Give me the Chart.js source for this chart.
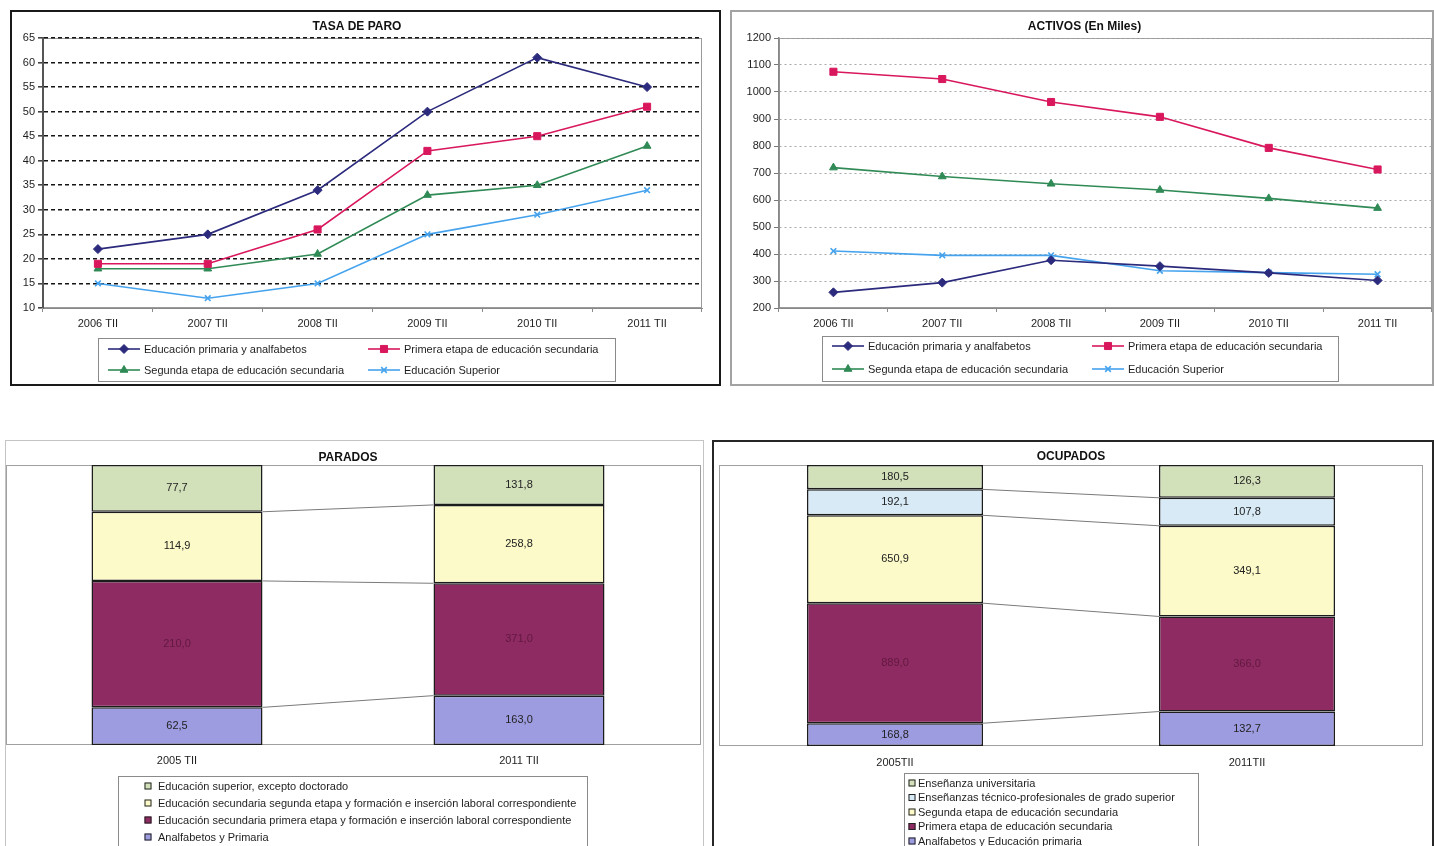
<!DOCTYPE html>
<html>
<head>
<meta charset="utf-8">
<script src="https://cdn.jsdelivr.net/npm/chart.js@4.4.1/dist/chart.umd.min.js"></script>
<style>
  html, body { margin: 0; padding: 0; background: #fff; width: 1434px; height: 846px; overflow: hidden; }
  .panel { position: absolute; box-sizing: border-box; background: #fff; overflow: hidden; }
  .panel canvas { display: block; }
</style>
</head>
<body>
<div class="panel" style="left:10px;top:10px;width:711px;height:376px;border:2px solid #1a1a1a"><canvas id="cTasa" width="707" height="372"></canvas></div>
<div class="panel" style="left:730px;top:10px;width:704px;height:376px;border:2px solid #a3a3a3"><canvas id="cActivos" width="706" height="372"></canvas></div>
<div class="panel" style="left:5px;top:440px;width:699px;height:422px;border:1px solid #c4c4c4"><canvas id="cParados" width="697" height="420"></canvas></div>
<div class="panel" style="left:712px;top:440px;width:722px;height:424px;border:2px solid #262626"><canvas id="cOcupados" width="718" height="420"></canvas></div>

<script>
// ---- Series: unemployment rate and active population by education level ----
const lineYears = ['2006 TII', '2007 TII', '2008 TII', '2009 TII', '2010 TII', '2011 TII'];
const lineSeriesNames = [
  'Educación primaria y analfabetos',
  'Primera etapa de educación secundaria',
  'Segunda etapa de educación secundaria',
  'Educación Superior'
];
const paroPrimaria = [22, 25, 34, 50, 61, 55];
const paroPrimera  = [19, 19, 26, 42, 45, 51];
const paroSegunda  = [18, 18, 21, 33, 35, 43];
const paroSuperior = [15, 12, 15, 25, 29, 34];

const activosPrimaria = [258, 294, 377, 355, 330, 302];
const activosPrimera  = [1075, 1048, 963, 908, 793, 713];
const activosSegunda  = [720, 687, 660, 637, 606, 570];
const activosSuperior = [411, 395, 395, 338, 331, 325];

// ---- Stacked composition (thousands) ----
const paradosYears = ['2005 TII', '2011 TII'];
const paradosNames = [
  'Analfabetos y Primaria',
  'Educación secundaria primera etapa y formación e inserción laboral correspondiente',
  'Educación secundaria segunda etapa y formación e inserción laboral correspondiente',
  'Educación superior, excepto doctorado'
];
const paradosAnalfabetos = [62.5, 163.0];
const paradosPrimera     = [210.0, 371.0];
const paradosSegunda     = [114.9, 258.8];
const paradosSuperior    = [77.7, 131.8];

const ocupadosYears = ['2005TII', '2011TII'];
const ocupadosNames = [
  'Analfabetos y Educación primaria',
  'Primera etapa de educación secundaria',
  'Segunda etapa de educación secundaria',
  'Enseñanzas técnico-profesionales de grado superior',
  'Enseñanza universitaria'
];
const ocupadosAnalfabetos = [168.8, 132.7];
const ocupadosPrimera     = [889.0, 366.0];
const ocupadosSegunda     = [650.9, 349.1];
const ocupadosTecnico     = [192.1, 107.8];
const ocupadosUniversidad = [180.5, 126.3];

// ---- Shared style ----
const FONT = '"Liberation Sans", Arial, Helvetica, sans-serif';
Chart.defaults.font.family = FONT;
Chart.defaults.font.size = 11;
Chart.defaults.color = '#1e1e1e';
Chart.defaults.animation = false;

const NAVY = '#2b2a7c', CRIMSON = '#d9175d', GREEN = '#2f8a55', SKY = '#45a3ee';
const C_ANALF = '#9e9ce0', C_PRIM = '#8e2b63', C_SEG = '#fbfac8', C_TEC = '#d7eaf5', C_SUP = '#d3e1bb';

const fmt = v => v.toFixed(1).replace('.', ',');

// Grey frame around the plotting area
const plotFrame = {
  id: 'plotFrame',
  beforeDraw(chart, args, o) {
    if (!o || !o.color) return;
    const a = chart.chartArea, ctx = chart.ctx;
    const right = o.right != null ? o.right : a.right;
    const left = o.left != null ? o.left : a.left;
    ctx.save();
    ctx.strokeStyle = o.color;
    ctx.lineWidth = o.width || 1;
    ctx.strokeRect(left + 0.5, a.top + 0.5, right - left - 1, a.bottom - a.top - 1);
    ctx.restore();
  }
};

// Boxed legend with fixed rows/columns
const boxLegend = {
  id: 'boxLegend',
  afterDraw(chart, args, o) {
    if (!o || !o.rows) return;
    const ctx = chart.ctx;
    const ds = chart.data.datasets;
    ctx.save();
    ctx.strokeStyle = o.borderColor || '#8a8a8a';
    ctx.lineWidth = 1;
    ctx.strokeRect(o.x + 0.5, o.y + 0.5, o.w, o.h);
    ctx.font = (o.fontSize || 11) + 'px ' + FONT;
    ctx.textBaseline = 'middle';
    const order = ds.map((d, i) => i);
    if (o.reverse) order.reverse();
    order.forEach((di, k) => {
      const d = ds[di];
      const nCols = o.cols ? o.cols.length : 1;
      const col = k % nCols;
      const row = Math.floor(k / nCols);
      const y = o.rows[row];
      if (o.kind === 'line') {
        const mx = o.cols[col];
        ctx.strokeStyle = d.borderColor;
        ctx.lineWidth = d.borderWidth;
        ctx.beginPath();
        ctx.moveTo(mx, y);
        ctx.lineTo(mx + 32, y);
        ctx.stroke();
        ctx.fillStyle = d.pointBackgroundColor;
        ctx.strokeStyle = d.pointBorderColor;
        ctx.lineWidth = d.pointBorderWidth;
        Chart.helpers.drawPoint(ctx, { pointStyle: d.pointStyle, radius: d.pointRadius, borderWidth: d.pointBorderWidth, rotation: 0 }, mx + 16, y);
        ctx.fillStyle = '#1e1e1e';
        ctx.fillText(d.label, o.textX[col], y + 0.5);
      } else {
        const s = 7;
        ctx.fillStyle = d.backgroundColor;
        ctx.fillRect(o.markX - s / 2, y - s / 2, s, s);
        ctx.strokeStyle = '#222';
        ctx.lineWidth = 1;
        ctx.strokeRect(o.markX - s / 2 + 0.5, y - s / 2 + 0.5, s - 1, s - 1);
        ctx.fillStyle = '#1e1e1e';
        ctx.fillText(d.label, o.textX, y + 0.5);
      }
    });
    ctx.restore();
  }
};

// Value labels and connector lines for the 100% stacked bars
const stackDecor = {
  id: 'stackDecor',
  afterDatasetsDraw(chart) {
    const ctx = chart.ctx;
    const ds = chart.data.datasets;
    ctx.save();
    // connectors between segment tops of the two columns
    ctx.strokeStyle = '#7a7a7a';
    ctx.lineWidth = 1;
    for (let i = 0; i < ds.length - 1; i++) {
      const m = chart.getDatasetMeta(i).data;
      const a = m[0], b = m[1];
      ctx.beginPath();
      ctx.moveTo(a.x + a.width / 2, a.y);
      ctx.lineTo(b.x - b.width / 2, b.y);
      ctx.stroke();
    }
    // labels
    ctx.font = '11px ' + FONT;
    ctx.textAlign = 'center';
    ctx.textBaseline = 'middle';
    ds.forEach((d, i) => {
      chart.getDatasetMeta(i).data.forEach((el, j) => {
        ctx.fillStyle = d.labelColor;
        ctx.fillText(fmt(d.rawValues[j]), el.x, (el.y + el.base) / 2);
      });
    });
    ctx.restore();
  }
};

function lineDataset(label, data, color, style, radius, width) {
  return {
    label, data,
    borderColor: color, backgroundColor: color,
    borderWidth: width,
    pointStyle: style, pointRadius: radius, pointHoverRadius: radius,
    pointBackgroundColor: color, pointBorderColor: color,
    pointBorderWidth: style === 'crossRot' ? 1.6 : 1,
    tension: 0
  };
}

function lineChart(id, title, series, yMin, yMax, yStep, gridStyle, yAxisWidth, padRight, legend) {
  const [s1, s2, s3, s4] = series;
  return new Chart(document.getElementById(id), {
    type: 'line',
    data: {
      labels: lineYears,
      datasets: [
        lineDataset(lineSeriesNames[0], s1, NAVY, 'rectRot', 4.5, 1.6),
        lineDataset(lineSeriesNames[1], s2, CRIMSON, 'rect', 5, 1.6),
        lineDataset(lineSeriesNames[2], s3, GREEN, 'triangle', 4.5, 1.6),
        lineDataset(lineSeriesNames[3], s4, SKY, 'crossRot', 4, 1.6)
      ]
    },
    options: {
      responsive: false,
      devicePixelRatio: 1,
      layout: { padding: { left: 0, right: padRight, top: 0, bottom: 46 } },
      plugins: {
        legend: { display: false },
        tooltip: { enabled: false },
        title: {
          display: true, text: title, color: '#111',
          font: { size: 12, weight: 'bold' },
          padding: { top: 7.4, bottom: 4.2 }
        },
        plotFrame: { color: '#9a9a9a', width: 1 },
        boxLegend: legend
      },
      scales: {
        x: {
          offset: true,
          afterFit: s => { s.height = 30; },
          grid: { offset: true, drawOnChartArea: false, drawTicks: true, tickLength: 4, color: '#8a8a8a' },
          border: { display: true, color: '#8a8a8a', width: 1 },
          ticks: { padding: 5.4, color: '#1e1e1e', font: { size: 11 } }
        },
        y: {
          min: yMin, max: yMax,
          afterFit: s => { s.width = yAxisWidth; },
          ticks: { stepSize: yStep, padding: 3, color: '#1e1e1e', font: { size: 11 }, callback: v => String(v) },
          grid: gridStyle.grid,
          border: gridStyle.border
        }
      }
    },
    plugins: [plotFrame, boxLegend]
  });
}

// TASA DE PARO
lineChart('cTasa', 'TASA DE PARO', [paroPrimaria, paroPrimera, paroSegunda, paroSuperior],
  10, 65, 5,
  {
    grid: {
      color: c => (c.tick && c.tick.value === 10) ? 'rgba(0,0,0,0)' : '#151515',
      lineWidth: 1.6, drawTicks: true, tickLength: 5, tickColor: '#444'
    },
    border: { display: true, color: '#555', width: 2, dash: [4, 3] }
  },
  31, 17,
  { kind: 'line', x: 86, y: 326, w: 517, h: 43, rows: [337, 358], cols: [96, 356], textX: [132, 392], borderColor: '#8a8a8a' }
);

// ACTIVOS
lineChart('cActivos', 'ACTIVOS (En Miles)', [activosPrimaria, activosPrimera, activosSegunda, activosSuperior],
  200, 1200, 100,
  {
    grid: {
      color: c => (c.tick && c.tick.value === 200) ? 'rgba(0,0,0,0)' : '#a8a8a8',
      lineWidth: 1, drawTicks: true, tickLength: 5, tickColor: '#777'
    },
    border: { display: true, color: '#888', width: 1.5, dash: [2, 3] }
  },
  47, 1,
  { kind: 'line', x: 90, y: 324, w: 516, h: 45, rows: [334, 357], cols: [100, 360], textX: [136, 396], borderColor: '#8a8a8a' }
);

function stackChart(id, title, years, names, series, colors, labelColors, titlePad, padLeft, padRight, tickPad, frameRight, legend) {
  const totals = years.map((_, j) => series.reduce((s, arr) => s + arr[j], 0));
  return new Chart(document.getElementById(id), {
    type: 'bar',
    data: {
      labels: years,
      datasets: series.map((arr, i) => ({
        label: names[i],
        data: arr.map((v, j) => v / totals[j] * 100),
        rawValues: arr,
        backgroundColor: colors[i],
        borderColor: '#1c1c1c',
        borderWidth: 1.5,
        borderSkipped: false,
        labelColor: labelColors[i],
        categoryPercentage: 0.5,
        barPercentage: 1
      }))
    },
    options: {
      responsive: false,
      devicePixelRatio: 1,
      layout: { padding: { left: padLeft, right: padRight, top: 0, bottom: 86 } },
      plugins: {
        legend: { display: false },
        tooltip: { enabled: false },
        title: {
          display: true, text: title, color: '#111',
          font: { size: 12, weight: 'bold' },
          padding: titlePad
        },
        plotFrame: { color: '#a0a0a0', width: 1, right: frameRight },
        boxLegend: legend
      },
      scales: {
        x: {
          stacked: true,
          afterFit: s => { s.height = 30; },
          grid: { display: false, drawTicks: false },
          border: { display: false },
          ticks: { padding: tickPad, color: '#1e1e1e', font: { size: 11 } }
        },
        y: { stacked: true, min: 0, max: 100, display: false }
      }
    },
    plugins: [plotFrame, stackDecor, boxLegend]
  });
}

// PARADOS
stackChart('cParados', 'PARADOS', paradosYears, paradosNames,
  [paradosAnalfabetos, paradosPrimera, paradosSegunda, paradosSuperior],
  [C_ANALF, C_PRIM, C_SEG, C_SUP],
  ['#222', '#62193f', '#222', '#222'],
  { top: 9.6, bottom: 0 }, 0, 13, 9.4, 695,
  { kind: 'square', reverse: true, x: 112, y: 335, w: 469, h: 90, rows: [345, 362, 379, 396], markX: 142, textX: 152, borderColor: '#8a8a8a' }
);

// OCUPADOS
stackChart('cOcupados', 'OCUPADOS', ocupadosYears, ocupadosNames,
  [ocupadosAnalfabetos, ocupadosPrimera, ocupadosSegunda, ocupadosTecnico, ocupadosUniversidad],
  [C_ANALF, C_PRIM, C_SEG, C_TEC, C_SUP],
  ['#222', '#62193f', '#222', '#222', '#222'],
  { top: 7.8, bottom: 0.8 }, 5, 9, 10.4, null,
  { kind: 'square', reverse: true, x: 190, y: 331, w: 294, h: 90, rows: [341, 355.5, 370, 384.5, 399], markX: 198, textX: 204, borderColor: '#8a8a8a' }
);
</script>
</body>
</html>
